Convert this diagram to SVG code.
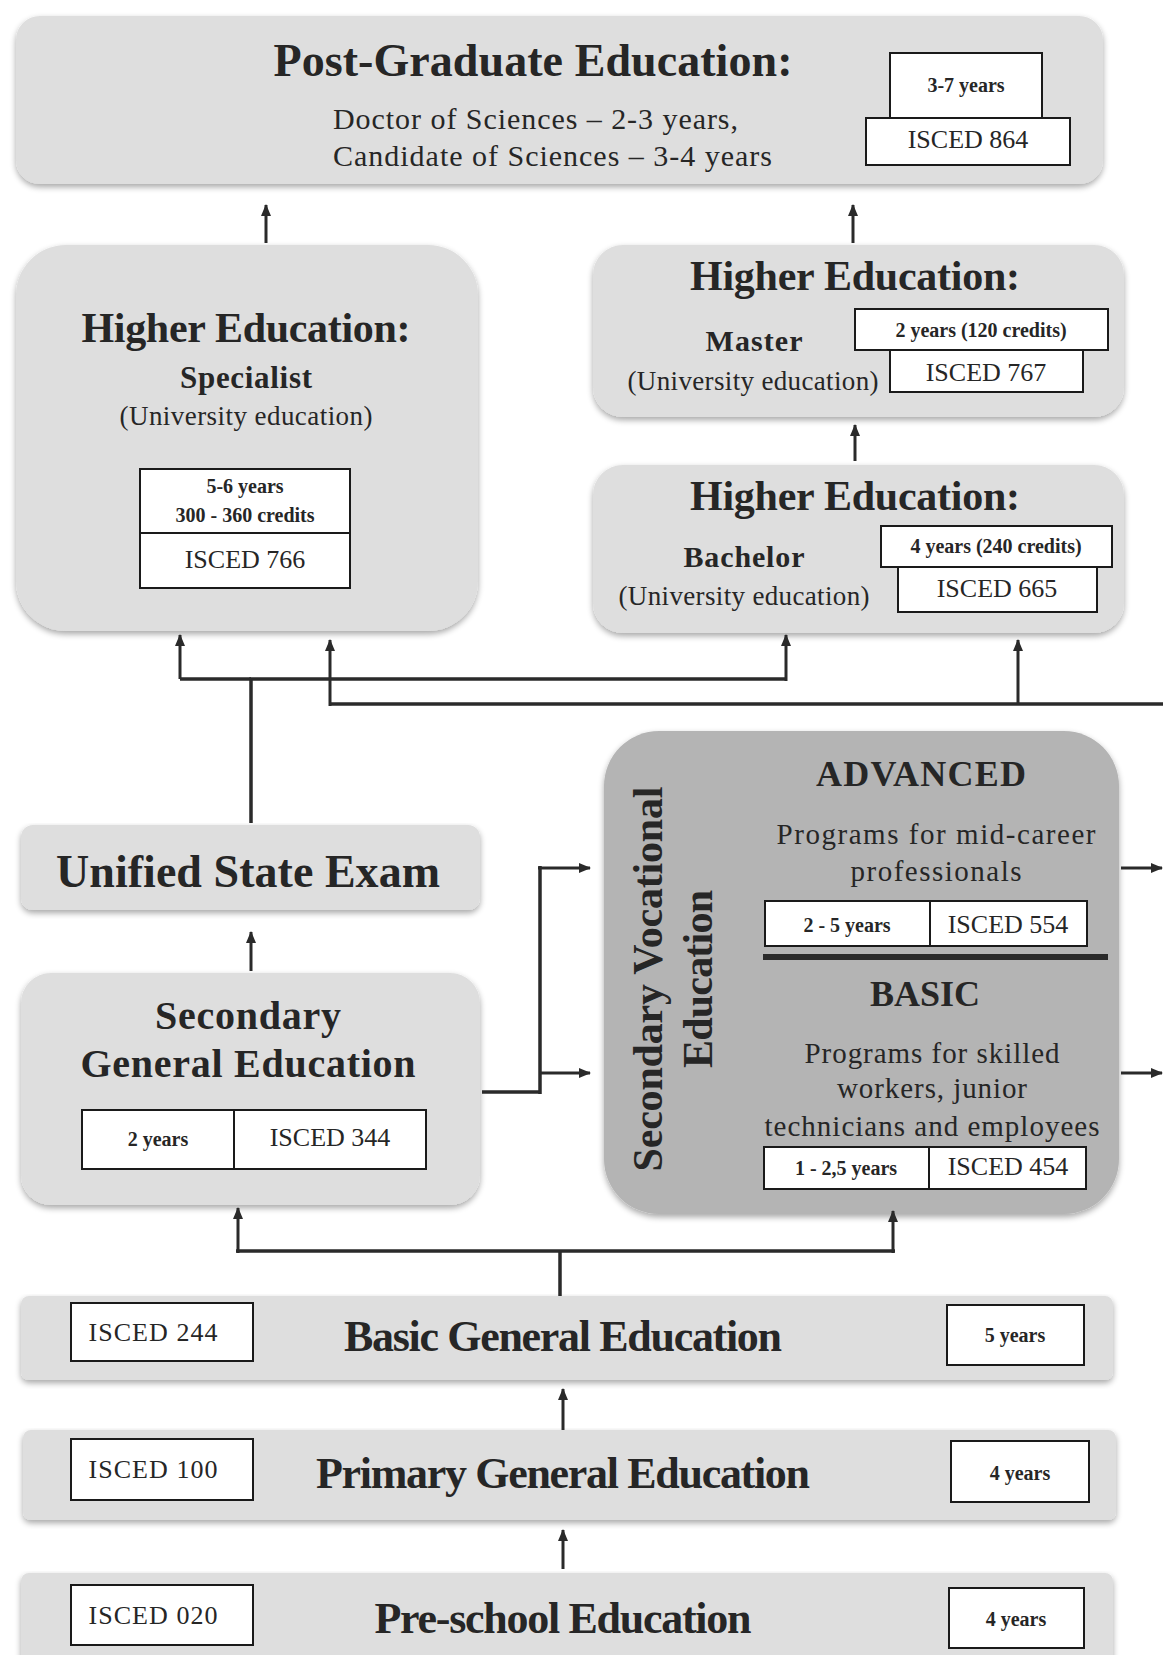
<svg xmlns="http://www.w3.org/2000/svg" width="1163" height="1655" viewBox="0 0 1163 1655">
<style>
.box{fill:#dedede;filter:url(#soft)}
.dark{fill:#b4b4b4;filter:url(#soft)}
.cell{fill:#ffffff;stroke:#1a1a1a;stroke-width:2}
.t{font-family:"Liberation Serif","Times New Roman",serif;fill:#262626;text-anchor:middle}
.b{font-weight:bold}
.ttl{font-size:42px;font-weight:bold}
.sub{font-size:27px}
.sm{font-size:20px;font-weight:bold}
.isc{font-size:26px}
.con{fill:none;stroke:#2a2a2a;stroke-width:3.5}
.arr{fill:none;stroke:#2a2a2a;stroke-width:3;marker-end:url(#ah)}
</style>
<defs>
<filter id="soft" x="-5%" y="-5%" width="110%" height="115%">
<feGaussianBlur in="SourceAlpha" stdDeviation="3" result="b"/>
<feOffset dy="3" in="b" result="o"/>
<feComponentTransfer in="o" result="s"><feFuncA type="linear" slope="0.35"/></feComponentTransfer>
<feMerge><feMergeNode in="s"/><feMergeNode in="SourceGraphic"/></feMerge>
</filter>
<marker id="ah" viewBox="0 0 12 10" refX="11" refY="5" markerWidth="12" markerHeight="10" markerUnits="userSpaceOnUse" orient="auto">
<path d="M0,0 L12,5 L0,10 z" fill="#2a2a2a"/>
</marker>
</defs>

<g id="postgraduate">
<rect class="box" x="16" y="16" width="1087" height="168" rx="24"/>
<text class="t b" x="533" y="76" font-size="46" textLength="519">Post-Graduate Education:</text>
<text class="t" x="333" y="129" font-size="30" style="text-anchor:start" textLength="405">Doctor of Sciences – 2-3 years,</text>
<text class="t" x="333" y="166" font-size="30" style="text-anchor:start" textLength="439">Candidate of Sciences – 3-4 years</text>
<rect class="cell" x="890" y="53" width="152" height="65"/>
<text class="t sm" x="966" y="92">3-7 years</text>
<rect class="cell" x="866" y="118" width="204" height="47"/>
<text class="t isc" x="968" y="148">ISCED 864</text>
</g>

<g id="specialist">
<rect class="box" x="16" y="245" width="462" height="386" rx="50"/>
<text class="t ttl" x="246" y="342" textLength="329">Higher Education:</text>
<text class="t b" x="246" y="388" font-size="31" textLength="132">Specialist</text>
<text class="t sub" x="246" y="425" textLength="253">(University education)</text>
<rect class="cell" x="140" y="469" width="210" height="119"/>
<line x1="140" y1="533" x2="350" y2="533" stroke="#1a1a1a" stroke-width="2"/>
<text class="t sm" x="245" y="493">5-6 years</text>
<text class="t sm" x="245" y="522">300 - 360 credits</text>
<text class="t isc" x="245" y="568">ISCED 766</text>
</g>

<g id="master">
<rect class="box" x="593" y="245" width="531" height="172" rx="30"/>
<text class="t ttl" x="855" y="290" textLength="330">Higher Education:</text>
<text class="t b" x="754" y="351" font-size="30" textLength="97">Master</text>
<text class="t sub" x="753" y="390" textLength="251">(University education)</text>
<rect class="cell" x="855" y="309" width="253" height="41"/>
<text class="t sm" x="981" y="337">2 years (120 credits)</text>
<rect class="cell" x="890" y="350" width="193" height="42"/>
<text class="t isc" x="986" y="381">ISCED 767</text>
</g>

<g id="bachelor">
<rect class="box" x="593" y="465" width="531" height="168" rx="30"/>
<text class="t ttl" x="855" y="510" textLength="330">Higher Education:</text>
<text class="t b" x="744" y="567" font-size="30" textLength="121">Bachelor</text>
<text class="t sub" x="744" y="605" textLength="251">(University education)</text>
<rect class="cell" x="881" y="526" width="231" height="41"/>
<text class="t sm" x="996" y="553">4 years (240 credits)</text>
<rect class="cell" x="898" y="567" width="199" height="45"/>
<text class="t isc" x="997" y="597">ISCED 665</text>
</g>

<g id="unified-state-exam">
<rect class="box" x="21" y="825" width="459" height="85" rx="12"/>
<text class="t b" x="248" y="887" font-size="46" textLength="384">Unified State Exam</text>
</g>

<g id="secondary-general">
<rect class="box" x="21" y="973" width="459" height="232" rx="30"/>
<text class="t b" x="248" y="1029" font-size="40" textLength="186">Secondary</text>
<text class="t b" x="248" y="1077" font-size="40" textLength="335">General Education</text>
<rect class="cell" x="82" y="1110" width="344" height="59"/>
<line x1="234" y1="1110" x2="234" y2="1169" stroke="#1a1a1a" stroke-width="2"/>
<text class="t sm" x="158" y="1146">2 years</text>
<text class="t isc" x="330" y="1146">ISCED 344</text>
</g>

<g id="secondary-vocational">
<rect class="dark" x="604" y="731" width="515" height="483" rx="55"/>
<text class="t b" transform="translate(662,979) rotate(-90)" font-size="42" textLength="385">Secondary Vocational</text>
<text class="t b" transform="translate(712,979) rotate(-90)" font-size="42" textLength="178">Education</text>
<text class="t b" x="921" y="786" font-size="36" textLength="210">ADVANCED</text>
<text class="t" x="936" y="844" font-size="29" textLength="319">Programs for mid-career</text>
<text class="t" x="936" y="881" font-size="29" textLength="171">professionals</text>
<rect class="cell" x="765" y="901" width="322" height="45"/>
<line x1="930" y1="901" x2="930" y2="946" stroke="#1a1a1a" stroke-width="2"/>
<text class="t sm" x="847" y="932">2 - 5 years</text>
<text class="t isc" x="1008" y="933">ISCED 554</text>
<line x1="763" y1="957" x2="1108" y2="957" stroke="#2a2a2a" stroke-width="6"/>
<text class="t b" x="925" y="1006" font-size="36" textLength="110">BASIC</text>
<text class="t" x="932" y="1063" font-size="29" textLength="255">Programs for skilled</text>
<text class="t" x="932" y="1098" font-size="29" textLength="190">workers, junior</text>
<text class="t" x="932" y="1136" font-size="29" textLength="335">technicians and employees</text>
<rect class="cell" x="764" y="1147" width="322" height="42"/>
<line x1="929" y1="1147" x2="929" y2="1189" stroke="#1a1a1a" stroke-width="2"/>
<text class="t sm" x="846" y="1175">1 - 2,5 years</text>
<text class="t isc" x="1008" y="1175">ISCED 454</text>
</g>

<g id="basic-general">
<rect class="box" x="21" y="1296" width="1092" height="84" rx="8"/>
<rect class="cell" x="71" y="1303" width="182" height="58"/>
<text class="t isc" x="153" y="1341" textLength="129">ISCED 244</text>
<text class="t b" x="563" y="1351" font-size="44" textLength="438">Basic General Education</text>
<rect class="cell" x="947" y="1305" width="137" height="60"/>
<text class="t sm" x="1015" y="1342">5 years</text>
</g>

<g id="primary-general">
<rect class="box" x="23" y="1430" width="1093" height="90" rx="8"/>
<rect class="cell" x="71" y="1439" width="182" height="61"/>
<text class="t isc" x="153" y="1478" textLength="129">ISCED 100</text>
<text class="t b" x="563" y="1488" font-size="44" textLength="494">Primary General Education</text>
<rect class="cell" x="951" y="1441" width="138" height="61"/>
<text class="t sm" x="1020" y="1480">4 years</text>
</g>

<g id="preschool">
<rect class="box" x="21" y="1573" width="1092" height="100" rx="8"/>
<rect class="cell" x="71" y="1585" width="182" height="60"/>
<text class="t isc" x="153" y="1624" textLength="129">ISCED 020</text>
<text class="t b" x="563" y="1633" font-size="44" textLength="377">Pre-school Education</text>
<rect class="cell" x="949" y="1588" width="135" height="60"/>
<text class="t sm" x="1016" y="1626">4 years</text>
</g>

<g id="connectors">
<path class="arr" d="M266 243 V205"/>
<path class="arr" d="M853 243 V205"/>
<path class="arr" d="M855 461 V425"/>
<path class="con" d="M251 823 V679 H786"/>
<path class="arr" d="M180 679 V635"/>
<path class="con" d="M180 679 H251"/>
<path class="arr" d="M786 681 V635"/>
<path class="con" d="M1163 704 H330"/>
<path class="arr" d="M330 706 V640"/>
<path class="arr" d="M1018 704 V640"/>
<path class="arr" d="M251 971 V932"/>
<path class="con" d="M482 1092 H540 M540 1094 V866"/>
<path class="arr" d="M538 868 H590"/>
<path class="arr" d="M540 1073 H590"/>
<path class="arr" d="M1121 868 H1162"/>
<path class="arr" d="M1121 1073 H1162"/>
<path class="con" d="M560 1296 V1251 M236 1251 H895"/>
<path class="arr" d="M238 1253 V1208"/>
<path class="arr" d="M893 1253 V1211"/>
<path class="arr" d="M563 1430 V1389"/>
<path class="arr" d="M563 1569 V1530"/>
</g>
</svg>
